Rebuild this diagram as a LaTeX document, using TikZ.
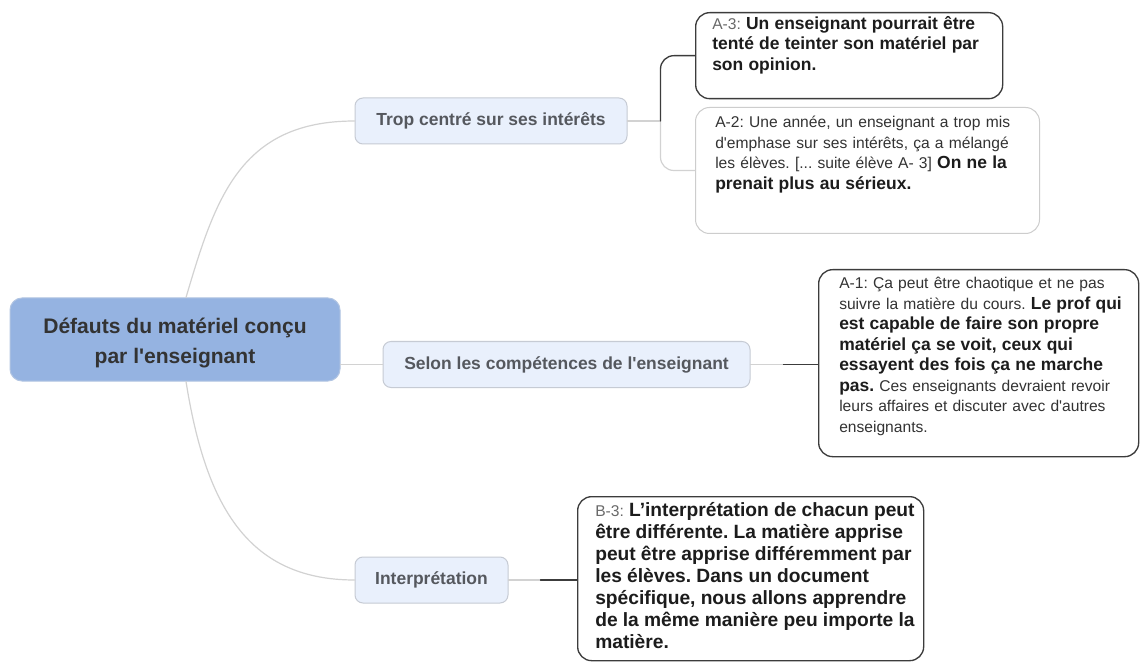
\documentclass[tikz,border=0pt]{standalone}
\usepackage{fontspec}
\setmainfont{Liberation Sans}
\usetikzlibrary{calc,positioning}
\definecolor{maproot}{RGB}{149,179,225}
\definecolor{maprootedge}{RGB}{178,197,226}
\definecolor{mapbranch}{RGB}{233,240,252}
\definecolor{mapbranchedge}{RGB}{198,203,212}
\definecolor{maptwig}{RGB}{210,210,210}
\definecolor{mapwire}{RGB}{60,60,60}
\definecolor{mapink}{RGB}{51,51,51}
\definecolor{mapinkdark}{RGB}{28,28,28}
\definecolor{mapinkgrey}{RGB}{85,88,94}
\definecolor{maplabel}{RGB}{105,105,105}
\definecolor{mapleafedge}{RGB}{205,205,205}
\newcommand\noteregular{\fontsize{11.7pt}{15.4pt}\selectfont}
\newcommand\notestrong[1]{{\color{mapinkdark}\bfseries\fontsize{13.1pt}{15.4pt}\selectfont #1}}
\newcommand\notebig{\fontsize{11.7pt}{16.5pt}\selectfont}
\newcommand\notestrongbig[1]{{\color{mapinkdark}\bfseries\fontsize{14.4pt}{16.5pt}\selectfont #1}}
\newcommand\sq{\XeTeXglyph\XeTeXglyphindex "quotesingle"\relax}
\frenchspacing

\begin{document}
\begin{tikzpicture}[x=0.75pt,y=-0.75pt,line cap=round,
 rootbox/.style={draw=maprootedge,fill=maproot,line width=0.75pt,rounded corners=9pt,
  minimum width=247.5pt,minimum height=62.25pt,align=center,text=mapink,
  font=\bfseries\fontsize{15.8pt}{22.5pt}\selectfont},
 branchbox/.style={draw=mapbranchedge,fill=mapbranch,line width=0.75pt,rounded corners=6pt,
  minimum height=34.5pt,text=mapinkgrey,font=\bfseries\fontsize{13.1pt}{15pt}\selectfont},
 leafbox/.style={draw=mapwire,line width=1pt,rounded corners=10.5pt,fill=white,anchor=north west},
 paleleaf/.style={leafbox,draw=mapleafedge,line width=0.75pt},
 notetext/.style={anchor=north west,inner sep=0pt,text width=300pt,align=left,text=mapink,font=\noteregular},
 twig/.style={maptwig,line width=0.9pt},
 wire/.style={mapwire,line width=1pt}]
\fill[white] (0,0) rectangle (1140,663);
\useasboundingbox (0,0) rectangle (1140,663);
% centre and branches
\node[rootbox] (root) at (175,339.5) {\rule{0pt}{17pt}Défauts du matériel conçu\\par l\sq enseignant};
\node[branchbox,minimum width=204pt] (trop) at (491,121) {Trop centré sur ses intérêts};
\node[branchbox,minimum width=275.25pt] (selon) at (566.5,364.5) {Selon les compétences de l\sq enseignant};
\node[branchbox,minimum width=114.75pt] (interp) at (431.5,580) {Interprétation};
% notes
\node[leafbox,minimum width=230.25pt,minimum height=64.5pt] (a3) at (695,12) {};
\node[notetext] (a3t) at (712,16) {{\color{maplabel}A-3:} \notestrong{Un enseignant pourrait être}\\
 \notestrong{tenté de teinter son matériel par}\\
 \notestrong{son opinion.}};
\node[paleleaf,minimum width=258pt,minimum height=94.5pt] (a2) at (695,107) {};
\node[notetext] (a2t) at (715,116) {A-2: Une année, un enseignant a trop mis\\
 d\sq emphase sur ses intérêts, ça a mélangé\\
 les élèves. [... suite élève A- 3] \notestrong{On ne la}\\
 \notestrong{prenait plus au sérieux.}};
\node[leafbox,minimum width=240pt,minimum height=140.25pt] (a1) at (818,269) {};
\node[notetext] (a1t) at (839,277) {A-1: Ça peut être chaotique et ne pas\\
 suivre la matière du cours. \notestrong{Le prof qui}\\
 \notestrong{est capable de faire son propre}\\
 \notestrong{matériel ça se voit, ceux qui}\\
 \notestrong{essayent des fois ça ne marche}\\
 \notestrong{pas.} Ces enseignants devraient revoir\\
 leurs affaires et discuter avec d\sq autres\\
 enseignants.};
\node[leafbox,minimum width=259.5pt,minimum height=123pt] (b3) at (577,496) {};
\node[notetext,font=\notebig] (b3t) at (595,502) {{\color{maplabel}B-3:} \notestrongbig{L’interprétation de chacun peut}\\
 \notestrongbig{être différente. La matière apprise}\\
 \notestrongbig{peut être apprise différemment par}\\
 \notestrongbig{les élèves. Dans un document}\\
 \notestrongbig{spécifique, nous allons apprendre}\\
 \notestrongbig{de la même manière peu importe la}\\
 \notestrongbig{matière.}};
% connectors
\draw[twig] ($(root.north)+(11,0)$) .. controls +(29,-98) and +(-115,0) .. (trop.west);
\draw[twig] (selon.west -| root.east) -- (selon.west);
\draw[twig] ($(root.south)+(11,0)$) .. controls +(19,119) and +(-110,0) .. (interp.west);
\coordinate (tropfork) at ($(trop.east)+(33,0)$);
\draw[twig] (trop.east) -- (tropfork);
\draw[twig,rounded corners=10pt] (tropfork) |- (a2.west);
\draw[wire,rounded corners=10pt] (tropfork) |- (a3.west);
\coordinate (selonfork) at ($(selon.east)+(33,0)$);
\draw[twig] (selon.east) -- (selonfork);
\draw[wire] (selonfork) -- (selonfork -| a1.west);
\coordinate (interpfork) at ($(interp.east)+(32,0)$);
\draw[twig] (interp.east) -- (interpfork);
\draw[wire] (interpfork) -- (interpfork -| b3.west);
\end{tikzpicture}
\end{document}
